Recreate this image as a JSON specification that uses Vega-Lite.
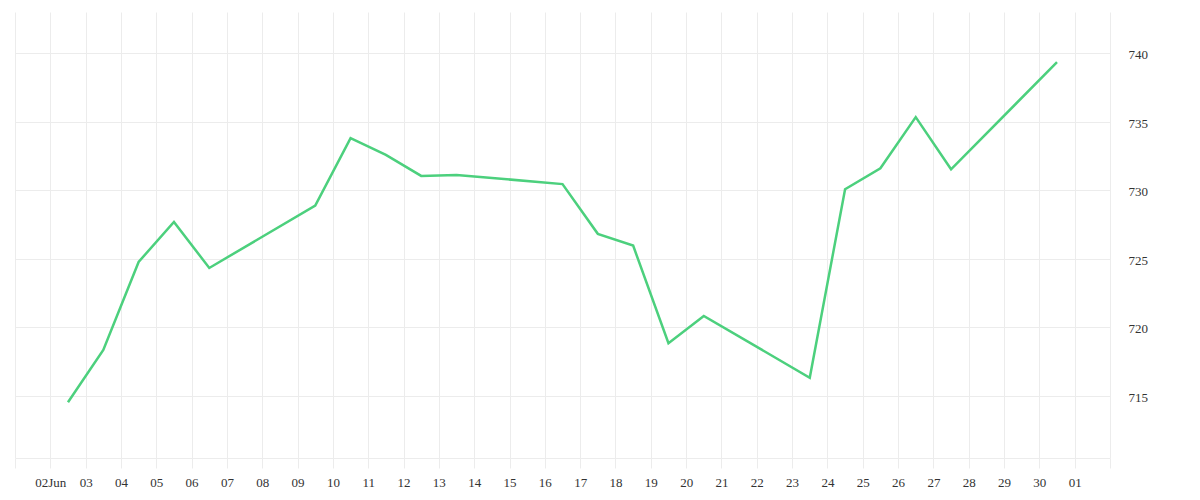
{
  "$schema": "https://vega.github.io/schema/vega-lite/v6.json",
  "width": 1095,
  "height": 446,
  "autosize": {"type": "none"},
  "padding": {"left": 15, "top": 12, "right": 90, "bottom": 42},
  "background": "white",
  "config": {
    "view": {"stroke": null},
    "font": "Liberation Serif"
  },
  "data": {
    "values": [
      {"date": "2025-06-02T12:00:00", "value": 714.52},
      {"date": "2025-06-03T12:00:00", "value": 718.34},
      {"date": "2025-06-04T12:00:00", "value": 724.76},
      {"date": "2025-06-05T12:00:00", "value": 727.68},
      {"date": "2025-06-06T12:00:00", "value": 724.32},
      {"date": "2025-06-09T12:00:00", "value": 728.87},
      {"date": "2025-06-10T12:00:00", "value": 733.79},
      {"date": "2025-06-11T12:00:00", "value": 732.57},
      {"date": "2025-06-12T12:00:00", "value": 731.04},
      {"date": "2025-06-13T12:00:00", "value": 731.11},
      {"date": "2025-06-16T12:00:00", "value": 730.44},
      {"date": "2025-06-17T12:00:00", "value": 726.81},
      {"date": "2025-06-18T12:00:00", "value": 725.95},
      {"date": "2025-06-19T12:00:00", "value": 718.83},
      {"date": "2025-06-20T12:00:00", "value": 720.82},
      {"date": "2025-06-23T12:00:00", "value": 716.31},
      {"date": "2025-06-24T12:00:00", "value": 730.07},
      {"date": "2025-06-25T12:00:00", "value": 731.60},
      {"date": "2025-06-26T12:00:00", "value": 735.33},
      {"date": "2025-06-27T12:00:00", "value": 731.52},
      {"date": "2025-06-30T12:00:00", "value": 739.34}
    ]
  },
  "mark": {"type": "line", "color": "#4CD07D", "strokeWidth": 2.5},
  "encoding": {
    "x": {
      "field": "date",
      "type": "temporal",
      "title": null,
      "scale": {
        "domain": [
          {"year": 2025, "month": 6, "date": 1},
          {"year": 2025, "month": 7, "date": 2}
        ],
        "nice": false
      },
      "axis": {
        "tickCount": {"interval": "day", "step": 1},
        "grid": true,
        "gridColor": "#ececec",
        "gridWidth": 1,
        "domainColor": "#ececec",
        "tickColor": "#ececec",
        "tickSize": 10,
        "labelPadding": 8,
        "labelFont": "Liberation Serif",
        "labelFontSize": 13,
        "labelColor": "#333333",
        "labelOverlap": false,
        "labelFlush": false,
        "labelExpr": "((month(datum.value)==5 && date(datum.value)==1) || (month(datum.value)==6 && date(datum.value)==2)) ? '' : timeFormat(datum.value, '%d') + ((month(datum.value)==5 && date(datum.value)==2) ? 'Jun' : '')"
      }
    },
    "y": {
      "field": "value",
      "type": "quantitative",
      "title": null,
      "scale": {"domain": [710.45, 743.0], "nice": false, "zero": false},
      "axis": {
        "orient": "right",
        "values": [715, 720, 725, 730, 735, 740],
        "grid": true,
        "gridColor": "#ececec",
        "gridWidth": 1,
        "ticks": false,
        "domain": false,
        "labelPadding": 18,
        "labelOffset": 1.5,
        "labelFont": "Liberation Serif",
        "labelFontSize": 13,
        "labelColor": "#333333"
      }
    }
  }
}
